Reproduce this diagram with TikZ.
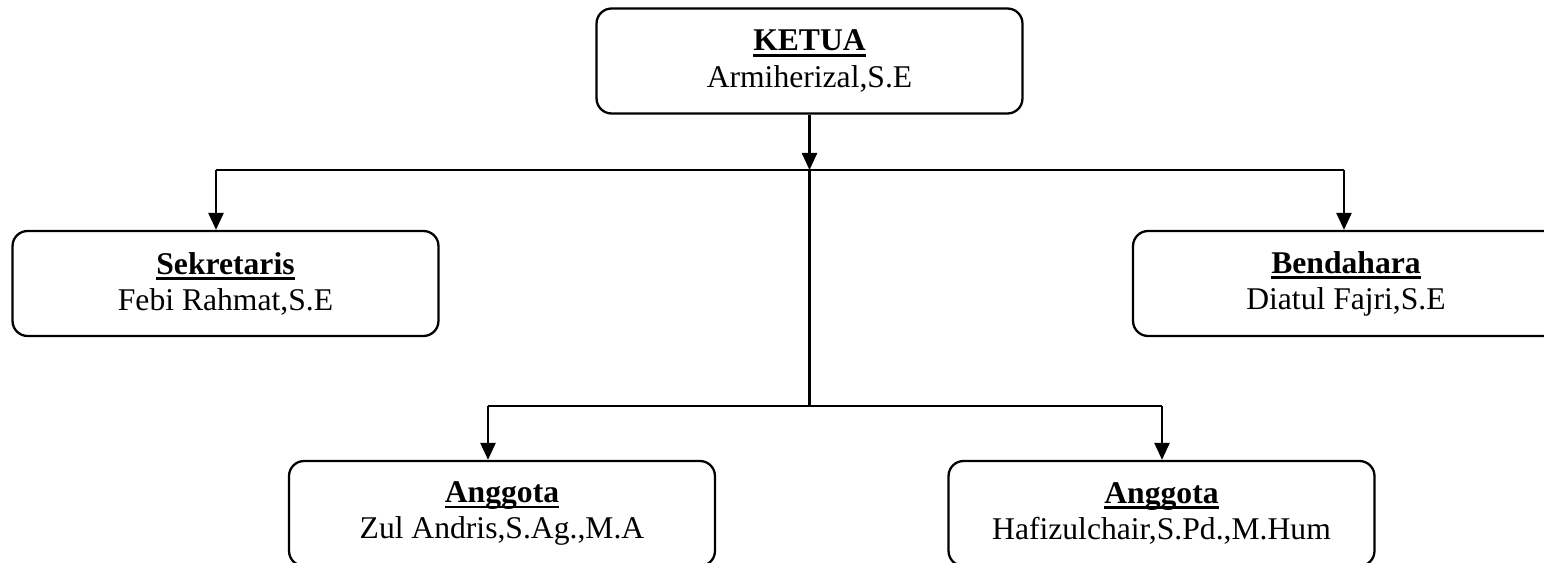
\documentclass[tikz,border=0pt]{standalone}
\usepackage{fontspec}
\setmainfont{Liberation Serif}
\usetikzlibrary{arrows.meta}
\newcommand\judul[1]{\setbox0\hbox{\textbf{#1}}\leavevmode\rlap{\raisebox{-3.2pt}{\rule{\wd0}{1.5pt}}}\box0}
\tikzset{
	jabatan/.style={draw, line width=1.3pt, rounded corners=0.3cm, align=center,
		minimum width=8.52cm, minimum height=2.1cm, inner sep=0pt,
		font=\fontsize{18}{20.5}\selectfont},
	garis/.style={line width=1.4pt},
	panah/.style={garis, -{Triangle[length=0.34cm, width=0.3cm]}}
}
\begin{document}
\begin{tikzpicture}[x=0.02cm, y=-0.02cm, line join=round]
	\useasboundingbox (0,0) rectangle (1544,563);
	% kotak jabatan
	\node[jabatan] (ketua) at (809.5,61) {\judul{KETUA}\\Armiherizal,S.E};
	\node[jabatan] (sekretaris) at (225.5,283.5) {\judul{Sekretaris}\\Febi Rahmat,S.E};
	\node[jabatan] (bendahara) at (1346,283.5) {\judul{Bendahara}\\Diatul Fajri,S.E};
	\node[jabatan] (anggotaA) at (502,513.5) {\judul{Anggota}\\Zul Andris,S.Ag.,M.A};
	\node[jabatan] (anggotaB) at (1161.5,513.5) {\judul{Anggota}\\Hafizulchair,S.Pd.,M.Hum};
	% titik cabang
	\coordinate (pusat) at (ketua.south |- 0,170);
	\coordinate (kiri) at (216,170);
	\coordinate (kanan) at (1344,170);
	\coordinate (bawah) at (ketua.south |- 0,406);
	\coordinate (bawahkiri) at (488,406);
	\coordinate (bawahkanan) at (1162,406);
	% garis
	\draw[panah] (ketua.south) -- (pusat);
	\draw[garis] (kiri) -- (kanan);
	\draw[panah] (kiri) -- (kiri |- sekretaris.north);
	\draw[panah] (kanan) -- (kanan |- bendahara.north);
	\draw[garis] (pusat) -- (bawah);
	\draw[garis] (bawahkiri) -- (bawahkanan);
	\draw[panah] (bawahkiri) -- (bawahkiri |- anggotaA.north);
	\draw[panah] (bawahkanan) -- (bawahkanan |- anggotaB.north);
\end{tikzpicture}
\end{document}
